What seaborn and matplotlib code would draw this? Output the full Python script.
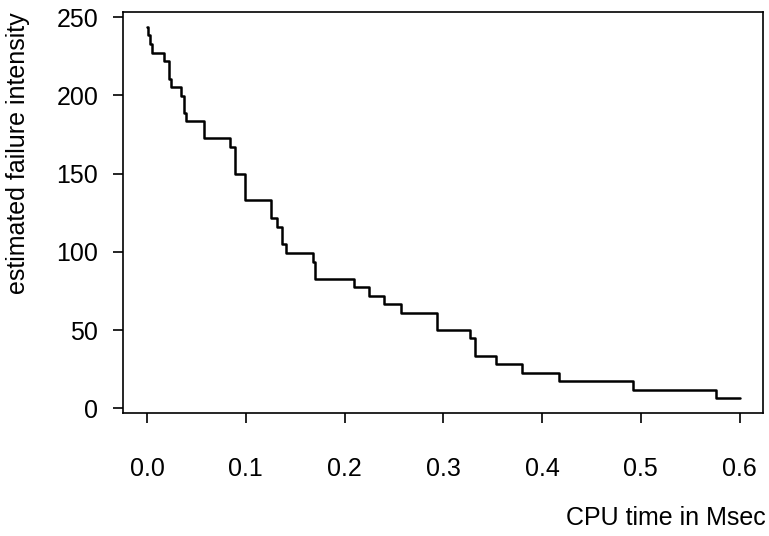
import pandas as pd
import matplotlib
matplotlib.use("Agg")
import matplotlib.pyplot as plt
import seaborn as sns

sns.set_style("white")
plt.rcParams["font.family"] = ["Liberation Sans", "DejaVu Sans"]

# -----------------------------
# Step data
# -----------------------------

cpu_time = [0.000, 0.001, 0.003, 0.005, 0.017, 0.022, 0.024, 0.034, 0.037, 0.040,
            0.058, 0.084, 0.089, 0.099, 0.126, 0.132, 0.137, 0.141, 0.168, 0.170,
            0.210, 0.225, 0.240, 0.257, 0.294, 0.327, 0.332, 0.353, 0.380, 0.417,
            0.492, 0.576, 0.600]
intensity = [243.6, 238.4, 232.6, 227.3, 222.0, 210.7, 205.4, 199.4, 188.8, 183.5,
             172.4, 167.0, 149.6, 133.0, 121.7, 116.0, 104.9, 99.4, 93.6, 82.7,
             77.6, 71.9, 66.7, 60.9, 50.0, 44.7, 33.4, 28.0, 22.7, 17.2,
             11.7, 6.6, 6.6]
x_ticks = [0.0, 0.1, 0.2, 0.3, 0.4, 0.5, 0.6]
y_ticks = [0, 50, 100, 150, 200, 250]

df = pd.DataFrame({"t": cpu_time, "lam": intensity})

fig = plt.figure(figsize=(7.69, 5.36), dpi=100)
ax = fig.add_axes([0.1603, 0.2295, 0.8323, 0.7481])

sns.lineplot(data=df, x="t", y="lam", ax=ax, drawstyle="steps-post",
             color="black", linewidth=1.8, estimator=None, sort=False)

ax.set_xlim(-0.024, 0.624)
ax.set_ylim(-3.0, 253.2)
ax.set_xticks(x_ticks)
ax.set_xticklabels([f"{v:.1f}" for v in x_ticks])
ax.set_yticks(y_ticks)
ax.set_yticklabels([str(v) for v in y_ticks])

for s in ax.spines.values():
    s.set_visible(True)
    s.set_color("black")
    s.set_linewidth(1.2)

ax.tick_params(axis="x", direction="out", length=7, width=1.2, pad=25,
               labelsize=18, colors="black", bottom=True, top=False)
ax.tick_params(axis="y", direction="out", length=7, width=1.2, pad=11,
               labelsize=18, colors="black", left=True, right=False)

ax.set_xlabel("CPU time in Msec", fontsize=18, loc="right", color="black")
ax.set_ylabel("estimated failure intensity", fontsize=18, loc="top", color="black")
ax.xaxis.set_label_coords(1.004, -0.232)
ax.yaxis.set_label_coords(-0.146, 1.0)

fig.savefig("out.png", dpi=100, facecolor="white")
plt.close(fig)
